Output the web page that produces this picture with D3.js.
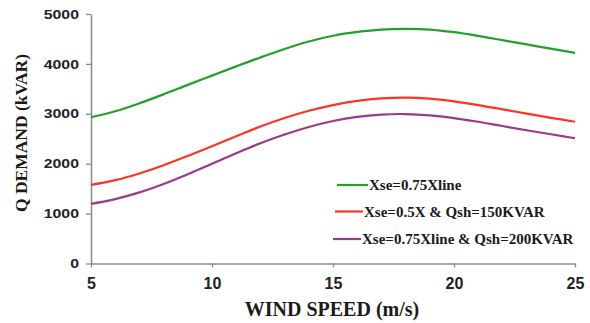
<!DOCTYPE html>
<html>
<head>
<meta charset="utf-8">
<script src="https://cdn.jsdelivr.net/npm/d3@7"></script>
<style>
  html, body { margin: 0; padding: 0; background: #fff; }
  svg { display: block; }
</style>
</head>
<body>
<svg id="chart" width="590" height="323"></svg>
<script>
// Wind speed (m/s) on the horizontal axis
const windSpeed = [5, 6, 7, 8, 9, 10, 11, 12, 13, 14, 15, 16, 17, 18, 19, 20, 21, 22, 23, 24, 25];

// Reactive power demand (kVAR) for each compensation scheme
const qXse075 = [2930, 3050, 3210, 3390, 3580, 3765, 3950, 4130, 4300, 4450, 4565, 4640, 4688, 4700, 4688, 4635, 4560, 4475, 4390, 4305, 4220];
const qXse05Qsh150 = [1575, 1670, 1805, 1970, 2155, 2350, 2550, 2745, 2915, 3060, 3175, 3260, 3310, 3325, 3305, 3250, 3175, 3090, 3005, 2920, 2840];
const qXse075Qsh200 = [1195, 1290, 1425, 1595, 1790, 2000, 2210, 2410, 2585, 2735, 2855, 2940, 2985, 2995, 2970, 2915, 2840, 2755, 2670, 2590, 2510];

const seriesNames = ["Xse=0.75Xline", "Xse=0.5X & Qsh=150KVAR", "Xse=0.75Xline & Qsh=200KVAR"];
const seriesColors = ["#22a02a", "#ff3324", "#9a3a8c"];

const xTicks = [5, 10, 15, 20, 25];
const yTicks = [0, 1000, 2000, 3000, 4000, 5000];

const series = [qXse075, qXse05Qsh150, qXse075Qsh200].map((vals, i) => ({
  name: seriesNames[i],
  color: seriesColors[i],
  points: windSpeed.map((w, j) => ({ w, q: vals[j] }))
}));

const svg = d3.select("#chart");

const x = d3.scaleLinear().domain([5, 25]).range([91, 575]);
const y = d3.scaleLinear().domain([0, 5000]).range([263.5, 14]);

const axisColor = "#8a8a8a";

// Y axis
const yAxis = svg.append("g")
  .attr("transform", "translate(91,0)")
  .call(d3.axisLeft(y).tickValues(yTicks).tickFormat(d3.format("d")).tickSize(5).tickPadding(7).tickSizeOuter(0));
yAxis.select(".domain").attr("stroke", axisColor).attr("stroke-width", 1.5);
yAxis.selectAll(".tick line").attr("stroke", axisColor).attr("stroke-width", 1.3);
yAxis.selectAll(".tick text")
  .attr("fill", "#222")
  .style("font-family", "'Liberation Sans', Arial, sans-serif")
  .style("font-weight", "bold")
  .style("font-size", "13px")
  .each(function () {
    const len = this.getComputedTextLength();
    d3.select(this).attr("textLength", len * 1.22).attr("lengthAdjust", "spacingAndGlyphs");
  });

// X axis
const xAxis = svg.append("g")
  .attr("transform", "translate(0,263.5)")
  .call(d3.axisBottom(x).tickValues(xTicks).tickSize(4).tickPadding(10).tickSizeOuter(0));
xAxis.select(".domain").attr("stroke", axisColor).attr("stroke-width", 1.5);
xAxis.selectAll(".tick line").attr("stroke", axisColor).attr("stroke-width", 1.3);
xAxis.selectAll(".tick text")
  .attr("fill", "#222")
  .style("font-family", "'Liberation Sans', Arial, sans-serif")
  .style("font-weight", "bold")
  .style("font-size", "16px");

// Axis titles
svg.append("text")
  .attr("x", 332).attr("y", 316)
  .attr("text-anchor", "middle")
  .attr("fill", "#1a1a1a")
  .style("font-family", "'Liberation Serif', 'Times New Roman', serif")
  .style("font-weight", "bold")
  .style("font-size", "20px")
  .text("WIND SPEED (m/s)");

svg.append("text")
  .attr("transform", "translate(27,133) rotate(-90)")
  .attr("text-anchor", "middle")
  .attr("fill", "#1a1a1a")
  .style("font-family", "'Liberation Serif', 'Times New Roman', serif")
  .style("font-weight", "bold")
  .style("font-size", "17.5px")
  .text("Q DEMAND (kVAR)");

// Curves
const line = d3.line()
  .x(d => x(d.w))
  .y(d => y(d.q))
  .curve(d3.curveCatmullRom.alpha(0.5));

svg.append("g").selectAll("path")
  .data(series)
  .join("path")
  .attr("d", d => line(d.points))
  .attr("fill", "none")
  .attr("stroke", d => d.color)
  .attr("stroke-width", 2.2)
  .attr("stroke-linejoin", "round");

// Legend
const legendRows = [
  { x0: 337, x1: 368, y: 185 },
  { x0: 335, x1: 363, y: 211.5 },
  { x0: 333, x1: 361, y: 239 }
];
const legend = svg.append("g");
series.forEach((s, i) => {
  const r = legendRows[i];
  legend.append("line")
    .attr("x1", r.x0).attr("x2", r.x1)
    .attr("y1", r.y).attr("y2", r.y)
    .attr("stroke", s.color).attr("stroke-width", 2.2);
  legend.append("text")
    .attr("x", r.x1 + 1).attr("y", r.y + 5)
    .attr("fill", "#1a1a1a")
    .style("font-family", "'Liberation Serif', 'Times New Roman', serif")
    .style("font-weight", "bold")
    .style("font-size", "15px")
    .text(s.name);
});
</script>
</body>
</html>
